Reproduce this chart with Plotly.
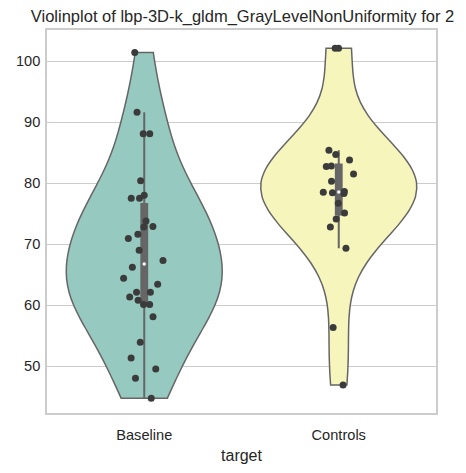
import numpy as np
import plotly.graph_objects as go

groups = ["Baseline", "Controls"]

baseline = [101.4, 91.6, 88.1, 88.1, 80.4, 78.0, 77.5, 77.5, 73.8, 72.9,
            72.8, 71.6, 70.9, 69.0, 67.3, 66.2, 64.4, 63.4, 62.1, 62.1,
            61.3, 60.8, 60.1, 60.1, 58.1, 53.9, 51.3, 49.5, 48.0, 44.7]
controls = [102.1, 102.1, 85.4, 84.7, 83.8, 82.8, 82.7, 81.5, 80.3, 78.6,
            78.5, 78.4, 78.3, 76.7, 75.1, 74.1, 72.8, 69.3, 56.3, 46.9]

fills = ["#96cac1", "#f6f6bc"]
data = [baseline, controls]

fig = go.Figure()

for i, (vals, col) in enumerate(zip(data, fills)):
    v = np.array(vals)
    # scott bandwidth, same as seaborn
    bw = v.std(ddof=1) * len(v) ** (-1 / 5)
    fig.add_trace(go.Violin(
        x=[i] * len(v), y=v, bandwidth=bw, spanmode="hard",
        scalemode="width", width=0.8,
        fillcolor=col, opacity=1, line=dict(color="#666666", width=1.5),
        points=False, showlegend=False, hoverinfo="skip"
    ))

# inner box (seaborn inner="box")
for i, vals in enumerate(data):
    v = np.array(vals)
    q1, med, q3 = np.percentile(v, [25, 50, 75])
    iqr = q3 - q1
    lo = v[v >= q1 - 1.5 * iqr].min()
    hi = v[v <= q3 + 1.5 * iqr].max()
    fig.add_trace(go.Box(
        x=[i], q1=[q1], median=[med], q3=[q3],
        lowerfence=[lo], upperfence=[hi],
        width=0.03, whiskerwidth=0, boxpoints=False,
        fillcolor="#666666", line=dict(color="#666666", width=2),
        showlegend=False, hoverinfo="skip"
    ))

# strip points
for i, vals in enumerate(data):
    fig.add_trace(go.Box(
        x=[i] * len(vals), y=vals, width=0.8,
        boxpoints="all", jitter=0.3, pointpos=0,
        fillcolor="rgba(0,0,0,0)", line=dict(color="rgba(0,0,0,0)", width=0),
        marker=dict(color="#3b3b3b", size=7),
        showlegend=False
    ))

# median dot
fig.add_trace(go.Scatter(
    x=[0, 1], y=[np.median(v) for v in data], mode="markers",
    marker=dict(color="white", size=3.5), showlegend=False, hoverinfo="skip"
))

fig.update_layout(
    width=466, height=473,
    margin=dict(l=47, r=30, t=30, b=60),
    paper_bgcolor="white", plot_bgcolor="white",
    font=dict(family="Liberation Sans, Arial, sans-serif", size=14.6, color="#262626"),
    title=dict(text="Violinplot of lbp-3D-k_gldm_GrayLevelNonUniformity for 2",
               x=0.5026, xref="paper", xanchor="center",
               y=0.966, yref="container", yanchor="middle",
               font=dict(size=16.5)),
    violinmode="overlay", boxmode="overlay",
)
fig.update_xaxes(
    range=[-0.5, 1.5], tickvals=[0, 1], ticktext=groups,
    showgrid=False, zeroline=False,
    showline=True, mirror=True, linecolor="#cccccc", linewidth=1.5,
    title=dict(text="target", font=dict(size=16), standoff=8),
    ticks="", ticklabelstandoff=8,
)
fig.update_yaxes(
    range=[42.3, 105.1], dtick=10, showgrid=True,
    gridcolor="#cccccc", gridwidth=1, zeroline=False,
    showline=True, mirror=True, linecolor="#cccccc", linewidth=1.5,
    ticks="", ticklabelstandoff=2,
)

# drop the default body margin so the figure fills the window
fig.write_html("out.html", config={"displayModeBar": False},
               post_script="document.body.style.margin='0';")
